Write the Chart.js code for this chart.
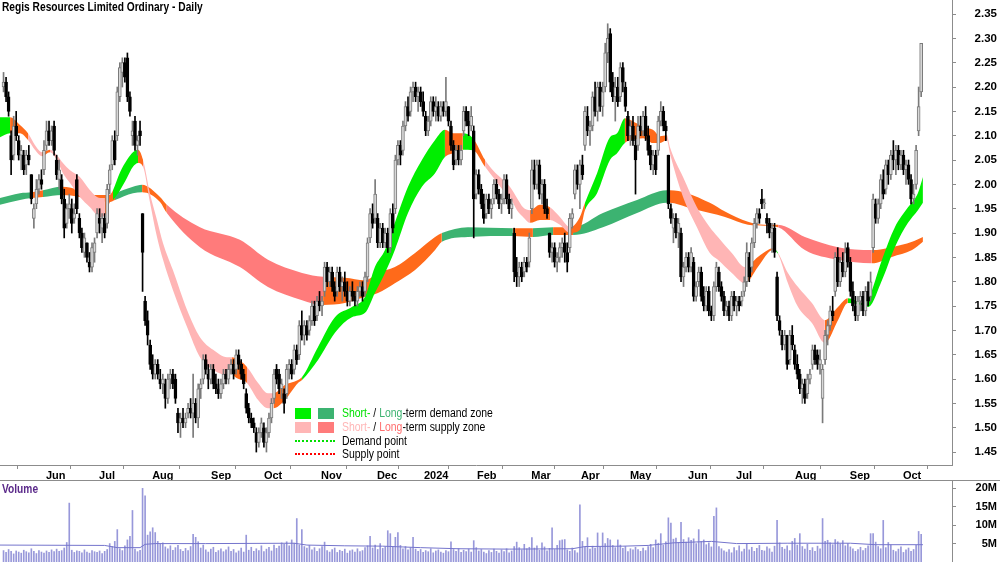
<!DOCTYPE html>
<html>
<head>
<meta charset="utf-8">
<script src="https://cdn.jsdelivr.net/npm/chart.js@4.4.1/dist/chart.umd.min.js"></script>
<style>
  html, body { margin: 0; padding: 0; background: #fff; }
  #wrap { position: relative; width: 1000px; height: 562px; overflow: hidden; font-family: "Liberation Sans", Arial, sans-serif; }
  #priceBox { position: absolute; left: 0; top: 0; width: 1000px; height: 481px; }
  #volBox { position: absolute; left: 0; top: 481px; width: 1000px; height: 81px; }
  .txt { position: absolute; white-space: nowrap; transform-origin: 0 0; line-height: 14px; }
  .title { left: 2px; top: 0; font-weight: bold; font-size: 12px; color: #000; transform: scaleX(0.85); }
  .volLabel { left: 2px; top: 482px; font-weight: bold; font-size: 12px; color: #5b2a8a; transform: scaleX(0.85); }
  .sep { position: absolute; left: 0; top: 480px; width: 1000px; height: 1px; background: #8c8c8c; }
  .sw { position: absolute; width: 16px; height: 11px; }
  .dot { position: absolute; width: 40px; height: 0; }
  .lg { font-size: 12px; color: #000; transform: scaleX(0.87); }
</style>
</head>
<body>
<div id="wrap">
  <div id="priceBox"><canvas id="priceChart" width="1000" height="481"></canvas></div>
  <div id="volBox"><canvas id="volumeChart" width="1000" height="81"></canvas></div>
  <div class="sep"></div>
  <div class="txt title">Regis Resources Limited Ordinary - Daily</div>
  <div class="txt volLabel">Volume</div>

  <div class="sw" style="left:295px;top:408px;background:#00f000"></div>
  <div class="sw" style="left:318px;top:408px;background:#3cb371"></div>
  <div class="txt lg" style="left:342px;top:406px"><span style="color:#00e000">Short-</span> / <span style="color:#3cb371">Long</span>-term demand zone</div>
  <div class="sw" style="left:295px;top:422px;background:#ffb6b6"></div>
  <div class="sw" style="left:318px;top:422px;background:#ff7b7b"></div>
  <div class="txt lg" style="left:342px;top:420px"><span style="color:#ffb6b6">Short-</span> / <span style="color:#ff6e6e">Long</span>-term supply zone</div>
  <div class="dot" style="left:295px;top:440px;border-top:2px dotted #00e000"></div>
  <div class="txt lg" style="left:342px;top:434px">Demand point</div>
  <div class="dot" style="left:295px;top:453px;border-top:2px dotted #ff0000"></div>
  <div class="txt lg" style="left:342px;top:447px">Supply point</div>
</div>

<script>
// Daily candles (trading-day index 0 = mid May 2023)
const openP = [
  2.20,2.21,2.18,2.10,2.06,2.12,2.09,2.06,2.06,2.04, 2.06,2.02,1.93,1.96,1.99,2.01,2.03,2.08,2.11,2.09,
  2.12,2.05,2.01,2.01,1.97,1.92,1.95,1.95,1.93,2.01, 1.93,1.90,1.86,1.88,1.84,1.83,1.86,1.90,1.93,1.91,
  1.93,1.92,2.00,2.04,2.09,2.10,2.18,2.23,2.25,2.26, 2.18,2.10,2.13,2.08,2.11,1.94,1.76,1.72,1.67,1.63,
  1.61,1.63,1.60,1.59,1.59,1.56,1.60,1.61,1.60,1.53, 1.51,1.52,1.51,1.53,1.54,1.53,1.55,1.52,1.58,1.60,
  1.64,1.61,1.60,1.62,1.59,1.58,1.57,1.59,1.61,1.60, 1.62,1.63,1.62,1.65,1.63,1.61,1.57,1.54,1.52,1.51,
  1.49,1.47,1.49,1.50,1.47,1.49,1.52,1.56,1.62,1.61, 1.58,1.57,1.57,1.62,1.63,1.62,1.66,1.65,1.71,1.69,
  1.71,1.70,1.72,1.75,1.73,1.76,1.75,1.78,1.83,1.80, 1.82,1.79,1.78,1.82,1.79,1.80,1.78,1.76,1.78,1.77,
  1.76,1.78,1.79,1.78,1.81,1.89,1.94,1.93,1.93,1.88, 1.91,1.88,1.90,1.87,1.94,1.95,2.05,2.08,2.07,2.12,
  2.16,2.15,2.19,2.20,2.18,2.19,2.17,2.14,2.11,2.13, 2.17,2.15,2.16,2.14,2.16,2.15,2.16,2.12,2.08,2.05,
  2.07,2.05,2.11,2.15,2.13,2.12,2.11,1.98,2.02,1.99, 1.96,1.94,1.97,1.95,1.97,2.00,1.98,1.96,1.97,2.01,
  1.97,1.95,1.90,1.82,1.81,1.83,1.82,1.84,1.84,1.95, 2.03,2.00,2.04,1.98,2.00,1.95,1.90,1.86,1.87,1.84,
  1.85,1.87,1.88,1.86,1.87,1.93,1.98,2.03,2.00,2.04, 2.08,2.14,2.11,2.12,2.18,2.15,2.20,2.16,2.20,2.27,
  2.31,2.21,2.18,2.20,2.18,2.24,2.20,2.14,2.10,2.12, 2.08,2.08,2.12,2.11,2.14,2.10,2.07,2.04,2.06,2.07,
  2.13,2.15,2.12,2.06,1.95,1.91,1.93,1.90,1.90,1.81, 1.83,1.85,1.83,1.84,1.77,1.80,1.82,1.77,1.75,1.78,
  1.74,1.73,1.79,1.82,1.79,1.77,1.74,1.75,1.73,1.77, 1.75,1.76,1.76,1.78,1.80,1.85,1.83,1.88,1.92,1.94,
  1.97,1.96,1.93,1.92,1.90,1.91,1.81,1.72,1.69,1.67, 1.69,1.64,1.69,1.66,1.63,1.61,1.58,1.59,1.57,1.60,
  1.63,1.66,1.65,1.63,1.56,1.64,1.69,1.71,1.74,1.78, 1.85,1.80,1.84,1.82,1.87,1.84,1.78,1.75,1.73,1.76,
  1.77,1.74,1.78,1.77,1.87,1.96,1.93,1.96,2.01,1.99, 2.04,2.02,2.06,2.05,2.07,2.04,2.06,2.03,2.04,2.01,
  1.97,2.00,2.11,2.19
];
const highP = [
  2.23,2.22,2.19,2.11,2.14,2.15,2.10,2.08,2.07,2.07, 2.08,2.02,1.96,2.01,2.02,2.03,2.09,2.13,2.13,2.12,
  2.13,2.06,2.05,2.02,1.99,1.96,1.98,1.97,1.96,2.02, 1.94,1.91,1.90,1.88,1.86,1.88,1.89,1.95,1.95,1.94,
  1.94,2.00,2.04,2.10,2.11,2.20,2.25,2.26,2.26,2.27, 2.19,2.13,2.14,2.10,2.13,1.94,1.77,1.74,1.68,1.65,
  1.64,1.64,1.62,1.61,1.60,1.61,1.62,1.62,1.61,1.54, 1.53,1.54,1.53,1.55,1.56,1.61,1.56,1.59,1.60,1.65,
  1.65,1.63,1.63,1.63,1.61,1.60,1.60,1.62,1.62,1.63, 1.64,1.64,1.66,1.66,1.64,1.62,1.58,1.55,1.53,1.52,
  1.50,1.50,1.52,1.51,1.50,1.53,1.56,1.62,1.63,1.62, 1.60,1.58,1.63,1.64,1.64,1.67,1.67,1.72,1.74,1.72,
  1.72,1.73,1.76,1.76,1.77,1.78,1.77,1.84,1.84,1.83, 1.83,1.80,1.83,1.83,1.81,1.82,1.80,1.79,1.80,1.78,
  1.79,1.80,1.80,1.82,1.89,1.95,1.96,2.01,1.94,1.92, 1.92,1.91,1.91,1.95,1.96,2.06,2.09,2.09,2.13,2.17,
  2.18,2.20,2.21,2.21,2.20,2.20,2.19,2.15,2.14,2.18, 2.18,2.18,2.17,2.17,2.17,2.22,2.16,2.13,2.09,2.08,
  2.08,2.08,2.16,2.16,2.15,2.16,2.12,2.03,2.03,2.00, 1.98,1.98,1.98,1.97,2.01,2.01,1.99,1.98,2.02,2.02,
  1.98,1.97,1.91,1.85,1.84,1.84,1.85,1.85,1.90,2.05, 2.05,2.05,2.05,2.01,2.01,1.97,1.90,1.88,1.88,1.86,
  1.88,1.89,1.90,1.88,1.94,1.95,2.04,2.04,2.05,2.06, 2.16,2.16,2.13,2.19,2.21,2.21,2.21,2.21,2.29,2.33,
  2.32,2.23,2.22,2.22,2.25,2.25,2.21,2.15,2.13,2.14, 2.10,2.14,2.14,2.15,2.16,2.12,2.08,2.07,2.07,2.14,
  2.17,2.16,2.13,2.06,1.96,1.94,1.94,1.93,1.91,1.84, 1.86,1.86,1.87,1.85,1.80,1.83,1.83,1.79,1.79,1.79,
  1.75,1.80,1.84,1.83,1.80,1.78,1.76,1.76,1.78,1.78, 1.77,1.77,1.78,1.81,1.88,1.86,1.89,1.93,1.95,1.95,
  1.99,1.97,1.94,1.93,1.92,1.92,1.82,1.73,1.70,1.70, 1.69,1.70,1.71,1.67,1.65,1.62,1.60,1.60,1.61,1.62,
  1.67,1.67,1.66,1.66,1.63,1.70,1.72,1.75,1.77,1.86, 1.87,1.85,1.86,1.88,1.88,1.85,1.80,1.77,1.77,1.78,
  1.78,1.79,1.80,1.82,1.98,1.97,1.97,2.02,2.03,2.05, 2.05,2.07,2.09,2.08,2.08,2.07,2.07,2.05,2.05,2.02,
  2.00,2.08,2.20,2.29
];
const lowP = [
  2.19,2.17,2.14,2.02,2.05,2.09,2.05,2.03,2.02,2.02, 2.04,1.96,1.91,1.95,1.98,1.99,2.02,2.07,2.08,2.08,
  2.06,2.01,1.99,1.96,1.89,1.91,1.93,1.90,1.92,1.94, 1.89,1.86,1.85,1.84,1.82,1.82,1.84,1.89,1.90,1.88,
  1.89,1.91,1.98,2.03,2.04,2.09,2.17,2.20,2.21,2.17, 2.14,2.08,2.07,2.06,2.08,1.78,1.71,1.67,1.62,1.60,
  1.60,1.60,1.58,1.57,1.54,1.55,1.58,1.58,1.55,1.49, 1.48,1.50,1.50,1.52,1.52,1.48,1.51,1.50,1.56,1.59,
  1.61,1.58,1.59,1.58,1.57,1.56,1.56,1.58,1.59,1.59, 1.61,1.60,1.61,1.62,1.60,1.58,1.53,1.51,1.50,1.49,
  1.45,1.46,1.48,1.46,1.45,1.48,1.51,1.55,1.59,1.57, 1.56,1.53,1.56,1.60,1.60,1.61,1.63,1.64,1.68,1.67,
  1.68,1.69,1.71,1.71,1.72,1.74,1.73,1.77,1.79,1.79, 1.78,1.76,1.77,1.78,1.76,1.77,1.75,1.75,1.76,1.75,
  1.75,1.77,1.76,1.77,1.80,1.88,1.91,1.92,1.87,1.87, 1.87,1.87,1.86,1.86,1.90,1.94,2.04,2.04,2.06,2.11,
  2.13,2.14,2.17,2.17,2.15,2.16,2.14,2.10,2.10,2.12, 2.14,2.13,2.13,2.13,2.14,2.14,2.12,2.07,2.03,2.04,
  2.04,2.04,2.10,2.12,2.10,2.11,1.89,1.97,1.98,1.95, 1.92,1.93,1.94,1.93,1.96,1.97,1.95,1.94,1.96,1.96,
  1.94,1.93,1.80,1.79,1.79,1.80,1.81,1.82,1.83,1.94, 1.99,1.99,1.97,1.96,1.94,1.93,1.85,1.84,1.83,1.82,
  1.84,1.85,1.84,1.82,1.86,1.91,1.97,1.99,1.95,2.01, 2.07,2.10,2.08,2.11,2.14,2.13,2.15,2.14,2.19,2.25,
  2.19,2.17,2.13,2.16,2.17,2.19,2.15,2.09,2.08,2.08, 1.98,2.07,2.10,2.10,2.09,2.06,2.03,2.02,2.02,2.06,
  2.12,2.11,2.09,1.95,1.92,1.88,1.89,1.87,1.80,1.79, 1.82,1.82,1.82,1.76,1.76,1.79,1.76,1.74,1.74,1.73,
  1.72,1.72,1.78,1.78,1.76,1.73,1.73,1.72,1.72,1.74, 1.73,1.74,1.75,1.77,1.79,1.80,1.82,1.87,1.91,1.92,
  1.95,1.95,1.90,1.89,1.86,1.85,1.72,1.69,1.66,1.66, 1.62,1.63,1.66,1.62,1.60,1.57,1.55,1.55,1.56,1.59,
  1.62,1.63,1.62,1.61,1.51,1.63,1.67,1.70,1.72,1.77, 1.79,1.79,1.81,1.81,1.83,1.77,1.74,1.72,1.72,1.74,
  1.73,1.73,1.75,1.76,1.86,1.92,1.92,1.95,1.97,1.98, 2.00,2.01,2.03,2.02,2.03,2.03,2.02,2.00,2.00,1.96,
  1.96,1.99,2.10,2.18
];
const closeP = [
  2.21,2.18,2.15,2.05,2.12,2.10,2.06,2.07,2.03,2.06, 2.05,1.97,1.95,1.99,2.01,2.00,2.07,2.11,2.09,2.11,
  2.07,2.02,2.03,1.97,1.91,1.95,1.96,1.92,1.94,1.95, 1.90,1.87,1.89,1.85,1.83,1.87,1.88,1.94,1.92,1.93,
  1.90,1.99,2.03,2.09,2.05,2.19,2.24,2.25,2.22,2.18, 2.15,2.11,2.08,2.09,2.10,1.86,1.72,1.69,1.63,1.61,
  1.63,1.61,1.59,1.60,1.56,1.60,1.61,1.59,1.56,1.51, 1.52,1.51,1.52,1.54,1.53,1.55,1.52,1.58,1.59,1.64,
  1.62,1.60,1.62,1.59,1.58,1.57,1.59,1.61,1.60,1.62, 1.63,1.61,1.65,1.63,1.61,1.59,1.54,1.52,1.51,1.50,
  1.47,1.49,1.51,1.47,1.49,1.52,1.55,1.61,1.60,1.58, 1.59,1.55,1.62,1.63,1.61,1.66,1.64,1.71,1.69,1.71,
  1.69,1.72,1.75,1.72,1.76,1.75,1.76,1.83,1.80,1.82, 1.79,1.77,1.82,1.79,1.80,1.78,1.76,1.78,1.77,1.76,
  1.78,1.79,1.77,1.81,1.88,1.94,1.92,1.98,1.88,1.91, 1.88,1.90,1.87,1.94,1.91,2.05,2.08,2.06,2.12,2.16,
  2.14,2.19,2.20,2.18,2.19,2.17,2.15,2.11,2.13,2.17, 2.15,2.16,2.14,2.16,2.15,2.17,2.13,2.08,2.04,2.07,
  2.05,2.07,2.15,2.13,2.12,2.14,1.97,2.02,1.99,1.96, 1.93,1.97,1.95,1.96,2.00,1.98,1.96,1.97,2.01,1.97,
  1.95,1.96,1.82,1.81,1.83,1.81,1.84,1.83,1.89,2.03, 2.00,2.04,1.98,2.00,1.95,1.94,1.86,1.87,1.84,1.85,
  1.87,1.88,1.86,1.84,1.93,1.94,2.03,2.00,2.04,2.02, 2.15,2.11,2.12,2.18,2.15,2.20,2.16,2.19,2.27,2.30,
  2.21,2.18,2.20,2.17,2.24,2.21,2.16,2.10,2.12,2.09, 2.05,2.12,2.11,2.14,2.10,2.07,2.04,2.06,2.03,2.13,
  2.15,2.12,2.11,1.96,1.93,1.93,1.90,1.92,1.81,1.83, 1.85,1.83,1.86,1.77,1.79,1.82,1.77,1.75,1.78,1.74,
  1.73,1.79,1.83,1.79,1.77,1.74,1.75,1.73,1.77,1.75, 1.76,1.75,1.77,1.80,1.86,1.81,1.88,1.92,1.94,1.93,
  1.96,1.96,1.92,1.90,1.91,1.86,1.73,1.70,1.67,1.69, 1.63,1.69,1.67,1.63,1.61,1.58,1.59,1.56,1.60,1.61,
  1.66,1.64,1.63,1.64,1.62,1.69,1.71,1.74,1.73,1.85, 1.80,1.84,1.82,1.86,1.84,1.78,1.75,1.73,1.76,1.77,
  1.74,1.78,1.76,1.80,1.97,1.93,1.96,2.01,1.98,2.04, 2.02,2.06,2.05,2.07,2.04,2.06,2.03,2.04,2.01,1.97,
  1.98,2.07,2.16,2.29
];

// Volume in millions of shares
const volumeM = [
  3.1,2.6,3.4,2.9,2.2,3.0,2.7,2.4,3.2,2.8, 2.5,3.6,2.9,2.3,3.1,2.7,2.4,3.0,2.6,3.3,
  2.8,3.5,2.9,3.1,3.8,5.3,16.0,3.2,2.6,3.0, 2.9,2.5,3.3,2.7,2.4,3.1,2.8,2.6,3.0,2.3,
  2.9,3.4,5.0,4.2,5.6,8.8,3.6,3.1,4.4,6.0, 7.0,14.0,3.5,2.8,3.2,20.0,18.0,7.3,8.2,9.3,
  8.0,5.6,4.8,5.2,4.1,3.6,4.4,3.2,3.9,4.5, 3.4,2.9,3.7,3.1,4.2,7.5,6.7,5.5,3.8,4.6,
  3.3,2.7,3.5,4.0,2.6,3.1,3.6,2.8,3.3,4.1, 2.9,3.4,2.5,3.0,3.8,2.7,7.3,3.2,4.0,2.9,
  3.6,3.1,4.4,2.8,3.5,4.0,3.0,4.6,3.7,4.3, 5.2,4.8,5.5,4.4,6.0,5.1,11.8,4.6,8.8,4.2,
  3.8,4.5,3.3,3.9,2.9,3.6,4.2,5.4,3.1,2.7, 3.4,3.8,2.6,3.2,2.9,3.5,2.4,3.0,3.3,2.7,
  3.6,2.8,3.1,3.9,4.4,7.0,3.8,4.6,3.4,5.0, 3.7,4.1,8.5,7.7,4.0,6.7,8.0,4.5,3.6,4.2,
  3.3,3.9,6.7,3.5,2.9,3.4,2.6,3.1,2.8,3.6, 2.5,3.0,3.3,2.7,2.4,3.1,2.8,5.5,3.4,2.9,
  3.7,2.6,3.2,2.8,3.5,2.7,5.8,3.9,3.0,3.4, 2.7,2.3,3.1,2.6,3.5,2.9,2.4,3.3,2.8,3.6,
  2.5,3.0,4.2,5.4,3.9,3.3,4.8,3.6,4.0,6.6, 3.8,4.4,3.2,5.2,4.1,3.0,3.7,9.3,3.4,4.5,
  5.8,6.0,6.1,3.3,2.9,3.8,3.1,2.5,15.5,5.6, 4.0,6.6,3.5,4.3,3.8,7.9,4.1,7.9,5.0,6.4,
  6.0,4.5,3.9,6.0,4.6,3.7,4.2,2.8,3.6,3.3, 4.0,3.4,2.9,3.8,3.1,4.2,4.8,3.9,6.0,5.1,
  7.7,4.6,5.5,12.0,10.6,6.2,6.5,5.3,10.8,6.1, 5.4,6.6,5.9,6.3,5.0,8.8,5.6,6.0,4.7,5.2,
  4.1,12.4,14.7,4.2,3.6,3.0,2.7,3.4,2.5,3.9, 3.1,4.4,2.8,3.5,4.8,3.3,4.0,2.9,3.7,4.5,
  3.2,3.0,4.1,3.6,2.7,4.3,11.3,5.2,4.0,3.5, 4.4,3.1,5.6,6.4,4.6,7.7,4.2,3.5,4.8,3.2,
  3.9,2.9,4.3,3.6,11.8,5.6,5.9,5.2,4.7,6.1, 5.5,4.9,5.8,4.4,5.0,4.1,3.6,2.9,3.4,4.0,
  3.1,3.7,4.4,7.7,7.7,5.4,4.2,3.6,11.3,3.9, 5.3,4.6,3.2,2.8,3.5,4.1,2.6,3.3,3.8,2.9,
  3.4,4.5,8.3,7.5
];

// Average volume line (index, millions)
const volAvgX = [-1.4, 40, 45, 54, 56, 60, 80, 115, 120, 135, 150, 165, 180, 200, 225, 230, 245, 255, 265, 280, 290, 310, 335, 345, 363.7];
const volAvg  = [4.6, 4.5, 3.9, 3.9, 4.8, 5.0, 5.0, 5.1, 4.6, 4.4, 4.3, 3.9, 3.6, 3.5, 3.6, 4.2, 4.3, 4.5, 5.2, 5.6, 5.0, 5.1, 5.1, 4.7, 4.7];

// Short-term zone (G = demand, P = supply, O = transition)
const shortX = [-1.4, 2.6, 6.5, 9.7, 12.4, 15.2, 18.4, 21.1, 23.5, 26.3, 30.2, 34.2, 38.2, 40.1, 42.1, 43.3, 46.1, 48.8, 51.2, 53.2,
  55.2, 57.9, 60.7, 63.1, 67.0, 72.6, 77.7, 82.9, 88.4, 90.4, 91.6, 96.3, 100.7, 104.6, 106.8, 111.3, 116.5, 118.1, 124.4, 131.1,
  137.8, 143.0, 146.9, 150.9, 154.8, 160.0, 165.5, 170.7, 174.6, 177.8, 181.7, 185.7, 190.5, 193.6, 197.6, 200.3, 203.1, 205.5, 208.3, 212.2,
  216.2, 220.1, 224.1, 228.0, 230.0, 234.8, 239.9, 242.7, 245.8, 250.6, 253.0, 256.9, 259.7, 262.4, 263.6, 268.8, 274.3, 279.4, 282.6, 288.1,
  293.3, 298.4, 302.4, 304.4, 306.4, 310.3, 314.3, 319.8, 324.9, 330.1, 334.0, 340.8, 342.0, 347.5, 352.6, 357.8, 361.7, 363.7];
const shortTop = [2.138, 2.138, 2.122, 2.105, 2.081, 2.066, 2.071, 2.060, 2.044, 2.029, 2.015, 1.988, 1.972, 1.972, 1.978, 1.988, 2.025, 2.050, 2.066, 2.071,
  2.050, 1.982, 1.927, 1.879, 1.824, 1.742, 1.686, 1.660, 1.645, 1.645, 1.643, 1.625, 1.592, 1.571, 1.571, 1.588, 1.598, 1.604, 1.666, 1.727,
  1.748, 1.769, 1.830, 1.865, 1.921, 1.995, 2.050, 2.091, 2.112, 2.105, 2.105, 2.095, 2.050, 2.029, 2.009, 1.995, 1.972, 1.953, 1.947, 1.958,
  1.953, 1.933, 1.912, 1.933, 1.962, 2.023, 2.097, 2.105, 2.136, 2.125, 2.118, 2.112, 2.099, 2.101, 2.077, 2.015, 1.953, 1.912, 1.892, 1.859,
  1.830, 1.851, 1.865, 1.869, 1.859, 1.818, 1.789, 1.756, 1.721, 1.748, 1.766, 1.755, 1.762, 1.845, 1.912, 1.953, 1.982, 2.015];
const shortBottom = [2.097, 2.105, 2.105, 2.091, 2.071, 2.058, 2.066, 2.050, 2.023, 2.003, 1.974, 1.953, 1.933, 1.937, 1.964, 1.968, 1.988, 2.013, 2.036, 2.044,
  2.036, 1.964, 1.892, 1.845, 1.783, 1.707, 1.645, 1.619, 1.608, 1.612, 1.604, 1.592, 1.557, 1.540, 1.540, 1.557, 1.592, 1.598, 1.639, 1.695,
  1.727, 1.736, 1.777, 1.818, 1.865, 1.941, 1.995, 2.023, 2.056, 2.064, 2.071, 2.070, 2.036, 2.015, 1.988, 1.974, 1.947, 1.933, 1.921, 1.927,
  1.927, 1.917, 1.900, 1.906, 1.947, 1.982, 2.050, 2.064, 2.085, 2.093, 2.095, 2.085, 2.085, 2.091, 2.064, 1.974, 1.912, 1.859, 1.845, 1.818,
  1.797, 1.830, 1.859, 1.865, 1.857, 1.797, 1.748, 1.715, 1.674, 1.721, 1.756, 1.750, 1.748, 1.803, 1.871, 1.921, 1.947, 1.962];
const shortZone = ['G','O','O','P','P','O','P','P','P','P','P','P','P','O','O','G','G','G','G','O',
  'P','P','P','P','P','P','P','P','P','O','O','P','P','P','O','O','O','G','G','G',
  'G','G','G','G','G','G','G','G','O','O','G','O','P','P','P','P','P','P','O','O',
  'P','P','O','O','G','G','G','G','O','O','O','O','O','P','P','P','P','P','P','P',
  'O','O','O','G','P','P','P','P','O','O','G','G','G','G','G','G','G','G'];

// Long-term zone (D = demand, R = supply, O = transition)
const longX = [-1.4, 6.5, 11.2, 15.6, 23.1, 30.2, 35.4, 42.1, 44.1, 51.2, 54.8, 61.9, 64.6, 77.7, 93.5, 104.6, 118.1, 126.4, 135.0, 143.0,
  148.1, 154.8, 162.8, 170.7, 173.4, 183.7, 201.5, 209.4, 217.4, 225.3, 237.1, 250.6, 262.4, 263.6, 270.4, 279.4, 285.4, 294.5, 301.0, 306.4,
  317.0, 330.1, 343.5, 351.4, 359.4, 363.7];
const longTop = [1.972, 1.982, 1.984, 1.988, 1.995, 1.988, 1.978, 1.978, 1.982, 1.995, 1.999, 1.974, 1.958, 1.912, 1.886, 1.845, 1.818, 1.810, 1.808, 1.803,
  1.818, 1.830, 1.859, 1.892, 1.900, 1.912, 1.910, 1.910, 1.912, 1.912, 1.941, 1.968, 1.988, 1.988, 1.982, 1.962, 1.944, 1.923, 1.917, 1.917,
  1.892, 1.871, 1.865, 1.871, 1.882, 1.892];
const longBottom = [1.958, 1.968, 1.972, 1.974, 1.978, 1.974, 1.968, 1.964, 1.968, 1.982, 1.984, 1.964, 1.941, 1.871, 1.830, 1.789, 1.762, 1.752, 1.756, 1.769,
  1.777, 1.797, 1.824, 1.865, 1.882, 1.892, 1.894, 1.892, 1.896, 1.896, 1.912, 1.941, 1.962, 1.962, 1.953, 1.941, 1.933, 1.917, 1.915, 1.912,
  1.865, 1.845, 1.838, 1.851, 1.865, 1.882];
const longZone = ['D','D','O','D','O','O','O','O','D','D','O','O','R','R','R','R','R','O','O','O',
  'O','O','O','O','D','D','O','D','O','D','D','D','D','O','O','O','O','O','O','R',
  'R','R','O','O','O','O'];

// Axis labels
const monthTicks = [16, 37, 58, 81.3, 102.2, 124.8, 146.9, 165.5, 186.5, 208, 227.6, 247, 270, 289, 312.3, 334, 355];
const monthLabels = ['Jun', 'Jul', 'Aug', 'Sep', 'Oct', 'Nov', 'Dec', '2024', 'Feb', 'Mar', 'Apr', 'May', 'Jun', 'Jul', 'Aug', 'Sep', 'Oct'];
const priceTicks = [1.45, 1.50, 1.55, 1.60, 1.65, 1.70, 1.75, 1.80, 1.85, 1.90, 1.95, 2.00, 2.05, 2.10, 2.15, 2.20, 2.25, 2.30, 2.35];
const volumeTicks = [5, 10, 15, 20];

const zoneColours = { G: '#00ee00', P: '#ffb5b5', O: '#ff6a1a', D: '#3cb371', R: '#ff7b7b' };
const FONT = '"Liberation Sans", Arial, sans-serif';
const AXIS = '#8c8c8c';
const X_MIN = -1.4, X_MAX = 375.2;

Chart.defaults.font.family = FONT;
Chart.defaults.color = '#000';

const isUp = i => closeP[i] >= openP[i];

// Right-hand tick labels, right aligned at the chart edge, placed by the y scale
function rightLabels(font, format) {
    return {
        id: 'rightLabels',
        afterDraw(chart) {
            const s = chart.scales.y;
            const c = chart.ctx;
            c.save();
            c.font = font;
            c.fillStyle = '#000';
            c.textAlign = 'right';
            c.textBaseline = 'middle';
            s.ticks.forEach(t => c.fillText(format(t.value), 997, s.getPixelForValue(t.value)));
            c.restore();
        }
    };
}

function bandDatasets(xs, top, bottom, zones, order) {
    const common = {
        type: 'line', order: order, borderWidth: 0, borderColor: 'transparent',
        pointRadius: 0, pointHoverRadius: 0, cubicInterpolationMode: 'monotone'
    };
    return [
        Object.assign({}, common, {
            data: xs.map((x, i) => ({ x: x, y: top[i] })),
            fill: '+1',
            backgroundColor: zoneColours[zones[0]],
            segment: { backgroundColor: ctx => zoneColours[zones[ctx.p0DataIndex]] }
        }),
        Object.assign({}, common, {
            data: xs.map((x, i) => ({ x: x, y: bottom[i] })),
            fill: false
        })
    ];
}

// Price chart
const priceCtx = document.getElementById('priceChart').getContext('2d');
new Chart(priceCtx, {
    type: 'bar',
    data: {
        datasets: [
            {
                type: 'bar', order: 0, grouped: false, barThickness: 3, minBarLength: 1,
                borderWidth: 1, borderSkipped: false,
                data: openP.map((o, i) => ({ x: i, y: [o, closeP[i]] })),
                backgroundColor: ctx => isUp(ctx.dataIndex) ? '#d8d8d8' : '#000',
                borderColor: ctx => isUp(ctx.dataIndex) ? '#7a7a7a' : '#000'
            },
            {
                type: 'bar', order: 1, grouped: false, barThickness: 1,
                data: openP.map((o, i) => ({ x: i, y: [lowP[i], highP[i]] })),
                backgroundColor: ctx => isUp(ctx.dataIndex) ? '#7a7a7a' : '#000'
            },
            ...bandDatasets(shortX, shortTop, shortBottom, shortZone, 2),
            ...bandDatasets(longX, longTop, longBottom, longZone, 3)
        ]
    },
    plugins: [rightLabels('bold 11.5px ' + FONT, v => v.toFixed(2))],
    options: {
        responsive: false,
        animation: false,
        layout: { padding: { top: 0, left: 0, bottom: 0, right: 3 }, autoPadding: false },
        plugins: { legend: { display: false }, tooltip: { enabled: false } },
        scales: {
            x: {
                type: 'linear', min: X_MIN, max: X_MAX, offset: false,
                grid: { drawOnChartArea: false, drawTicks: true, tickLength: 4, color: AXIS },
                border: { display: true, color: AXIS },
                afterBuildTicks: s => { s.ticks = monthTicks.map(v => ({ value: v })); },
                afterFit: s => { s.height = 16; s.paddingLeft = 0; s.paddingRight = 0; },
                ticks: {
                    autoSkip: false, maxRotation: 0, align: 'start', labelOffset: 2, padding: 0,
                    color: '#000', font: { family: FONT, size: 11, weight: 'bold' },
                    callback: (v, idx) => monthLabels[idx]
                }
            },
            y: {
                position: 'right', min: 1.4234, max: 2.3788,
                grid: { drawOnChartArea: false, tickLength: 4, color: AXIS },
                border: { display: true, color: AXIS },
                afterBuildTicks: s => { s.ticks = priceTicks.map(v => ({ value: v })); },
                afterFit: s => { s.width = 45; s.paddingTop = 0; s.paddingBottom = 0; },
                ticks: { display: false }
            }
        }
    }
});

// Volume chart
const volumeCtx = document.getElementById('volumeChart').getContext('2d');
new Chart(volumeCtx, {
    type: 'bar',
    data: {
        datasets: [
            {
                type: 'line', order: 0,
                data: volAvgX.map((x, i) => ({ x: x, y: volAvg[i] })),
                borderColor: '#7474cc', borderWidth: 1, pointRadius: 0, tension: 0, fill: false
            },
            {
                type: 'bar', order: 1, grouped: false, barThickness: 1,
                data: volumeM.map((v, i) => ({ x: i, y: v })),
                backgroundColor: '#9898da'
            }
        ]
    },
    plugins: [rightLabels('bold 11px ' + FONT, v => v + 'M')],
    options: {
        responsive: false,
        animation: false,
        layout: { padding: { top: 0, left: 0, bottom: 0, right: 3 }, autoPadding: false },
        plugins: { legend: { display: false }, tooltip: { enabled: false } },
        scales: {
            x: { type: 'linear', min: X_MIN, max: X_MAX, offset: false, display: false },
            y: {
                position: 'right', min: 0, max: 22,
                grid: { drawOnChartArea: false, tickLength: 4, color: AXIS },
                border: { display: true, color: AXIS },
                afterBuildTicks: s => { s.ticks = volumeTicks.map(v => ({ value: v })); },
                afterFit: s => { s.width = 45; s.paddingTop = 0; s.paddingBottom = 0; },
                ticks: { display: false }
            }
        }
    }
});
</script>
</body>
</html>
